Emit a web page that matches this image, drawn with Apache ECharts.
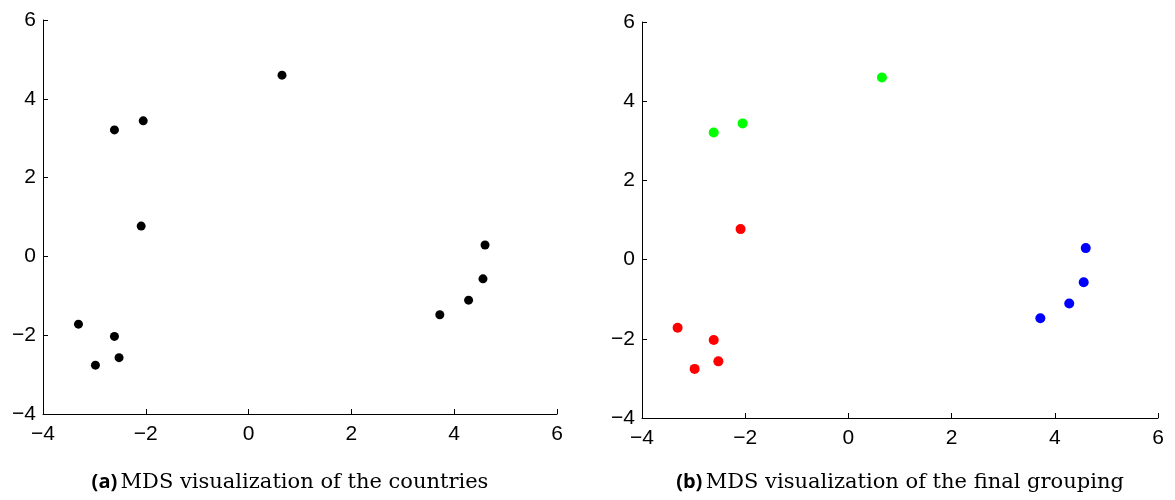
<!DOCTYPE html>
<html>
<head>
<meta charset="utf-8">
<script src="https://cdn.jsdelivr.net/npm/echarts@6/dist/echarts.min.js"></script>
<style>
html,body{margin:0;padding:0;background:#fff;}
#chart{width:1175px;height:500px;}
</style>
</head>
<body>
<div id="chart"></div>
<script>
// Cluster 1 (red in panel b)
const redX = [-2.09, -3.31, -2.61, -2.52, -2.98];
const redY = [0.77, -1.72, -2.03, -2.57, -2.76];
// Cluster 2 (green in panel b)
const greenX = [0.65, -2.61, -2.05];
const greenY = [4.60, 3.21, 3.44];
// Cluster 3 (blue in panel b)
const blueX = [4.60, 4.56, 4.28, 3.72];
const blueY = [0.29, -0.57, -1.11, -1.48];
// Axis ticks
const xTicks = [-4, -2, 0, 2, 4, 6];
const yTicks = [-4, -2, 0, 2, 4, 6];
const captionA = ['(a)', 'MDS visualization of the countries'];
const captionB = ['(b)', 'MDS visualization of the final grouping'];

function pts(xs, ys) { return xs.map((x, i) => [x, ys[i]]); }
const allPts = pts(redX, redY).concat(pts(greenX, greenY), pts(blueX, blueY));

const lbl = v => String(v).replace('-', '\u2212');
function xAxis(idx) {
  return {
    type: 'value', gridIndex: idx, min: xTicks[0], max: xTicks[xTicks.length - 1], interval: 2,
    axisLine: { show: true, onZero: false, lineStyle: { color: '#000', width: 1 } },
    axisTick: { show: true, inside: true, length: 5, lineStyle: { color: '#000' } },
    axisLabel: { formatter: lbl, color: '#000', fontSize: 21, fontFamily: 'Liberation Sans', margin: 10 },
    splitLine: { show: false }
  };
}
function yAxis(idx) {
  return {
    type: 'value', gridIndex: idx, min: yTicks[0], max: yTicks[yTicks.length - 1], interval: 2,
    axisLine: { show: true, onZero: false, lineStyle: { color: '#000', width: 1 } },
    axisTick: { show: true, inside: true, length: 5, lineStyle: { color: '#000' } },
    axisLabel: { formatter: lbl, color: '#000', fontSize: 21, fontFamily: 'Liberation Sans', margin: 7 },
    splitLine: { show: false }
  };
}
const chart = echarts.init(document.getElementById('chart'), null, { renderer: 'canvas' });
const rich = {
  b: { fontFamily: 'Open Sans', fontWeight: 'bold', fontSize: 20, fill: '#000' },
  s: { fontFamily: 'DejaVu Serif', fontSize: 21, fill: '#000' }
};
chart.setOption({
  animation: false,
  backgroundColor: '#fff',
  grid: [
    { left: 43, right: 618, top: 20, bottom: 86 },
    { left: 642, right: 17, top: 22, bottom: 82 }
  ],
  xAxis: [xAxis(0), xAxis(1)],
  yAxis: [yAxis(0), yAxis(1)],
  series: [
    { type: 'scatter', xAxisIndex: 0, yAxisIndex: 0, data: allPts, symbolSize: 9, itemStyle: { color: '#000', opacity: 1 } },
    { type: 'scatter', xAxisIndex: 1, yAxisIndex: 1, data: pts(redX, redY), symbolSize: 10, itemStyle: { color: '#ff0000', opacity: 1 } },
    { type: 'scatter', xAxisIndex: 1, yAxisIndex: 1, data: pts(greenX, greenY), symbolSize: 10, itemStyle: { color: '#00ff00', opacity: 1 } },
    { type: 'scatter', xAxisIndex: 1, yAxisIndex: 1, data: pts(blueX, blueY), symbolSize: 10, itemStyle: { color: '#0000ff', opacity: 1 } }
  ],
  graphic: [
    { type: 'text', style: {
      x: 290, y: 472, textAlign: 'center', textVerticalAlign: 'top',
      text: '{b|' + captionA[0] + '} {s|' + captionA[1] + '}', rich: rich
    } },
    { type: 'text', style: {
      x: 900, y: 472, textAlign: 'center', textVerticalAlign: 'top',
      text: '{b|' + captionB[0] + '} {s|' + captionB[1] + '}', rich: rich
    } }
  ]
});
</script>
</body>
</html>
